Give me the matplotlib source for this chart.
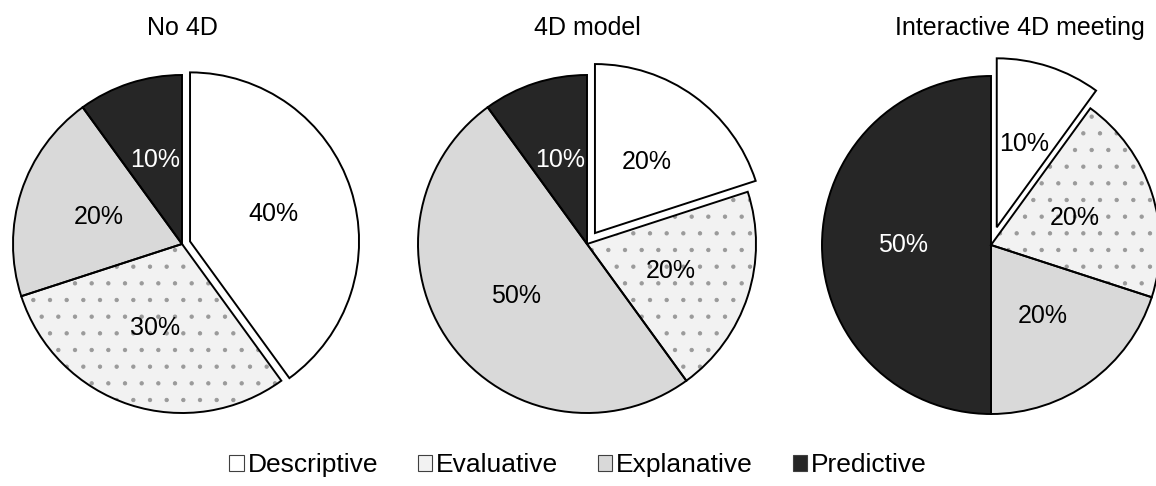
import matplotlib
matplotlib.use("Agg")
import matplotlib.pyplot as plt
from matplotlib.patches import Patch

plt.rcParams['font.family'] = ['Liberation Sans', 'DejaVu Sans']
plt.rcParams['hatch.linewidth'] = 0.7

categories = ['Descriptive', 'Evaluative', 'Explanative', 'Predictive']
titles = ['No 4D', '4D model', 'Interactive 4D meeting']
no_4d = [40, 30, 20, 10]
model_4d = [20, 20, 50, 10]
meeting_4d = [10, 20, 20, 50]
series = [no_4d, model_4d, meeting_4d]

fills = ['#ffffff', '#f2f2f2', '#d9d9d9', '#262626']
text_colors = ['#000000', '#000000', '#000000', '#ffffff']
explodes = [0.05, 0.08, 0.11]

W, H = 1156, 486
R = 169                      # pie radius in px
centers = [(182, 244), (587, 244), (991, 245)]
title_pos = [(182, 28), (587, 28), (1020, 28)]

fig = plt.figure(figsize=(W / 100, H / 100), dpi=100)

half = 1.25 * R
for vals, (cx, cy), ex in zip(series, centers, explodes):
    ax = fig.add_axes([(cx - half) / W, (H - cy - half) / H, 2 * half / W, 2 * half / H])
    explode = [ex, 0, 0, 0]
    # filled wedges, the dotted one gets a grey hatch
    wedges, _, autotexts = ax.pie(vals, colors=fills, explode=explode, startangle=90,
                                  counterclock=False, autopct='%.0f%%', pctdistance=0.52,
                                  wedgeprops=dict(linewidth=0, edgecolor='none'),
                                  textprops=dict(fontsize=18))
    wedges[1].set_hatch('.')
    wedges[1].set_edgecolor('#9a9a9a')
    wedges[1].set_linewidth(0)
    for t, c in zip(autotexts, text_colors):
        t.set_color(c)
        t.set_zorder(5)
    # black outlines on top
    outline, _ = ax.pie(vals, colors=['none'] * 4, explode=explode, startangle=90,
                        counterclock=False,
                        wedgeprops=dict(linewidth=1.4, edgecolor='black', fill=False))

for t, (x, y) in zip(titles, title_pos):
    fig.text(x / W, 1 - y / H, t, ha='center', va='center', fontsize=18)

handles = [Patch(facecolor=f, edgecolor='#404040', linewidth=0.8) for f in fills]
fig.legend(handles, categories, loc='center', bbox_to_anchor=(0.5, 1 - 465 / H),
           ncol=4, frameon=False, fontsize=19, handlelength=0.55, handleheight=0.55,
           handletextpad=0.15, columnspacing=1.5, borderaxespad=0)

fig.savefig('out.png', dpi=100)
